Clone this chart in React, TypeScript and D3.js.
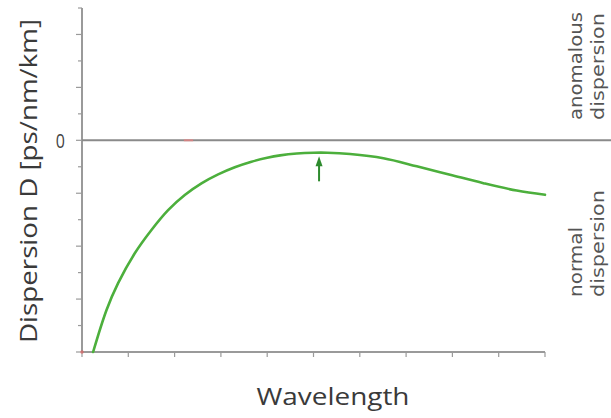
import React from "react";
import * as d3 from "d3";

const W = 611;
const H = 418;

// (arbitrary units)
const wavelength = [0.24, 0.53, 0.78, 1.14, 1.5, 1.86, 2.22, 2.58, 2.94, 3.3, 3.66, 4.0, 4.28, 4.64, 5.0, 5.3, 5.79, 6.51, 7.23, 7.95, 8.67, 9.39, 10.0];
const dispersion = [-8.0, -6.41, -5.4, -4.27, -3.39, -2.64, -2.07, -1.63, -1.29, -1.02, -0.81, -0.66, -0.57, -0.5, -0.47, -0.47, -0.52, -0.68, -0.98, -1.3, -1.62, -1.9, -2.06];
const xTicks = [0, 1, 2, 3, 4, 5, 6, 7, 8, 9, 10];
const yTicks = [-8, -7, -6, -5, -4, -3, -2, -1, 0, 1, 2, 3, 4, 5];
const yTickLabels = ["0"];
const arrowX = [5.12];
const arrowFromTo = [-1.55, -0.6];
const regionLabels = [["anomalous", "dispersion"], ["normal", "dispersion"]];

export default function App() {
  const x = d3.scaleLinear().domain([0, 10]).range([82, 545]);
  const y = d3.scaleLinear().domain([-8, 5]).range([352, 8]);

  const pts = wavelength.map((w, i) => [x(w), y(dispersion[i])] as [number, number]);
  const line = d3.line().curve(d3.curveCatmullRom.alpha(0.5));
  const pathD = line(pts) || "";

  const ax = x(arrowX[0]);
  const ayTip = y(arrowFromTo[1]);
  const ayBase = y(arrowFromTo[0]);

  const axisColor = "#9a9a9a";

  // region label geometry: start (bottom) of each rotated group, and lengths
  const groupStartY = [120, 297];
  const lineX = [582, 604];
  const labelLen: Record<string, number> = { anomalous: 108, normal: 70, dispersion: 107 };

  return (
    <svg
      width={W}
      height={H}
      style={{ position: "absolute", left: 0, top: 0, background: "#fff" }}
    >
      {/* y axis */}
      <line x1={x(0)} x2={x(0)} y1={y(5)} y2={y(-8)} stroke={axisColor} strokeWidth={2} />
      {yTicks.map((t) => (
        <line
          key={"yt" + t}
          x1={x(0) - (t % 2 === 0 ? 6 : 4)}
          x2={x(0)}
          y1={y(t)}
          y2={y(t)}
          stroke={axisColor}
          strokeWidth={1.2}
        />
      ))}
      {/* x axis */}
      <line x1={x(0)} x2={x(10)} y1={y(-8)} y2={y(-8)} stroke={axisColor} strokeWidth={2} />
      {xTicks.map((t) => (
        <line
          key={"xt" + t}
          x1={x(t)}
          x2={x(t)}
          y1={y(-8)}
          y2={y(-8) + 5}
          stroke={axisColor}
          strokeWidth={1.2}
        />
      ))}
      {/* zero line */}
      <line x1={x(0)} x2={W} y1={y(0)} y2={y(0)} stroke="#8a8a8a" strokeWidth={2} />
      {/* faint red marks */}
      <line x1={x(2.2)} x2={x(2.4)} y1={y(0)} y2={y(0)} stroke="#f08080" strokeWidth={2} opacity={0.7} />
      <circle cx={x(0)} cy={y(-8)} r={1.8} fill="#e06060" opacity={0.7} />

      {/* y tick label */}
      <text
        transform={`translate(${x(0) - 17},${y(0)}) scale(1,1.3)`}
        dy="0.36em"
        textAnchor="end"
        fontFamily="'Open Sans', sans-serif"
        fontSize={16}
        fill="#444"
      >
        {yTickLabels[0]}
      </text>

      {/* curve */}
      <path d={pathD} fill="none" stroke="#4caf3c" strokeWidth={2.6} strokeLinecap="round" />

      {/* arrow */}
      <line x1={ax} x2={ax} y1={ayBase} y2={ayTip + 6} stroke="#2e8b2e" strokeWidth={2} />
      <path
        d={`M${ax},${ayTip} L${ax - 3.5},${ayTip + 10} L${ax + 3.5},${ayTip + 10} Z`}
        fill="#2e8b2e"
      />

      {/* axis titles */}
      <text
        transform={`translate(37,181) rotate(-90)`}
        textAnchor="middle"
        fontFamily="'Open Sans', sans-serif"
        fontSize={23}
        fill="#3a3a3a"
        textLength={324}
        lengthAdjust="spacingAndGlyphs"
      >
        Dispersion D [ps/nm/km]
      </text>
      <text
        x={333}
        y={405}
        textAnchor="middle"
        fontFamily="'Open Sans', sans-serif"
        fontSize={23}
        fill="#3a3a3a"
        textLength={153}
        lengthAdjust="spacingAndGlyphs"
      >
        Wavelength
      </text>

      {/* region labels */}
      {regionLabels.map((lines, gi) =>
        lines.map((s, li) => (
          <text
            key={gi + "-" + li}
            transform={`translate(${lineX[li]},${groupStartY[gi]}) rotate(-90)`}
            textAnchor="start"
            fontFamily="'DejaVu Sans', sans-serif"
            fontSize={17}
            fill="#555"
            textLength={labelLen[s]}
            lengthAdjust="spacingAndGlyphs"
          >
            {s}
          </text>
        ))
      )}
    </svg>
  );
}
